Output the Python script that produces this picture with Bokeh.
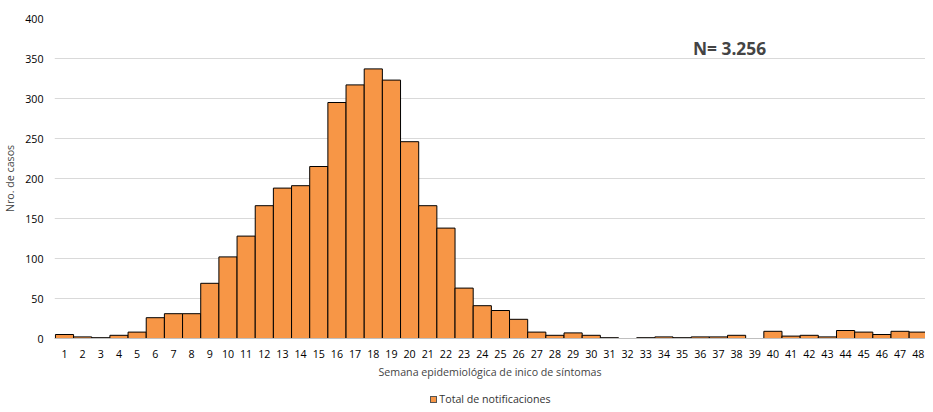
from bokeh.plotting import figure
from bokeh.models import Range1d, ColumnDataSource, Label, Div
from bokeh.layouts import column
from bokeh.embed import file_html
from bokeh.resources import INLINE

semanas = list(range(1, 49))
casos = [5, 2, 1, 4, 8, 26, 31, 31, 69, 102, 128, 166, 188, 191, 215, 295,
         317, 337, 323, 246, 166, 138, 63, 41, 35, 24, 8, 4, 7, 4, 1, 0,
         1, 2, 1, 2, 2, 4, 0, 9, 3, 4, 2, 10, 8, 5, 9, 8]
etiquetas = [str(s) for s in semanas]
serie = "Total de notificaciones"
FONT = "Open Sans"
COLOR = "#F79646"

source = ColumnDataSource(data=dict(x=semanas, top=casos))

p = figure(width=925, height=386, output_backend="svg", toolbar_location=None,
           tools="", x_range=Range1d(0.45, 48.4), y_range=Range1d(0, 400))
p.min_border_left = 50
p.min_border_top = 18
p.min_border_right = 0
p.min_border_bottom = 48

p.vbar(x="x", top="top", width=1.0, source=source, fill_color=COLOR,
       line_color="black", line_width=1)

p.xaxis.ticker = semanas
p.xaxis.major_label_overrides = {s: l for s, l in zip(semanas, etiquetas)}
p.yaxis.ticker = list(range(0, 401, 50))
p.xgrid.grid_line_color = None
p.ygrid.grid_line_color = "#d9d9d9"
p.outline_line_color = None
p.yaxis.axis_line_color = None
p.yaxis.major_tick_line_color = None
p.yaxis.minor_tick_line_color = None
p.xaxis.axis_line_color = "#bfbfbf"
p.xaxis.major_tick_line_color = None
p.xaxis.minor_tick_line_color = None
for ax in (p.xaxis[0], p.yaxis[0]):
    ax.major_label_text_font = FONT
    ax.major_label_text_font_size = "8pt"
    ax.major_label_text_color = "#000000"
    ax.axis_label_text_font = FONT
    ax.axis_label_text_font_size = "8pt"
    ax.axis_label_text_font_style = "normal"
p.xaxis.axis_label = "Semana epidemiológica de inico de síntomas"
p.yaxis.axis_label = "Nro. de casos"
p.xaxis.axis_label_standoff = 4

p.add_layout(Label(x=35.6, y=348, text="N= 3.256", text_font=FONT,
                   text_font_size="13pt", text_font_style="bold"))

leyenda = Div(width=925, height=16, text=(
    f'<div style="width:925px;text-align:center;font-family:\'{FONT}\';'
    f'font-size:8pt;color:#333;padding-left:46px">'
    f'<span style="display:inline-block;width:7px;height:7px;background:{COLOR};'
    f'border:1px solid #555;margin-right:2px"></span>{serie}</div>'))

open("out.html", "w").write(file_html(column(p, leyenda, spacing=0), INLINE))
